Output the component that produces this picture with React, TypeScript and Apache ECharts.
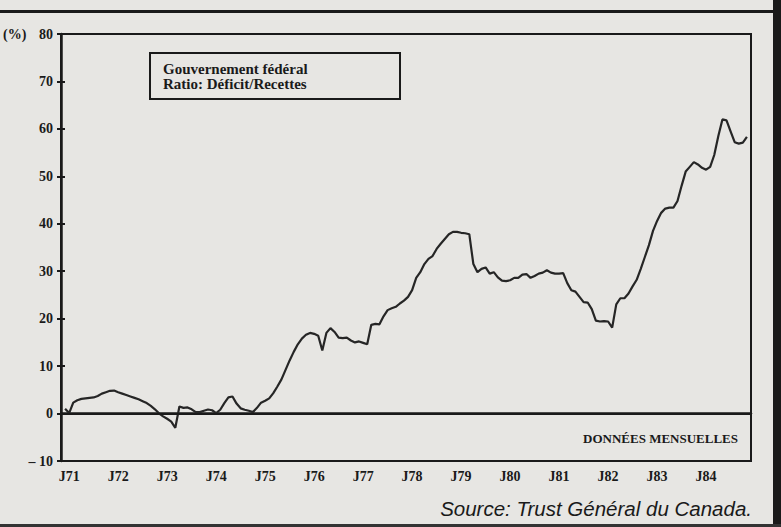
import React, { useEffect, useRef } from "react";
import * as echarts from "echarts";

// Monthly categories: Nov 1970 .. Dec 1984
const months: string[] = [];
for (let y = 1970; y <= 1984; y++) {
  for (let m = 1; m <= 12; m++) {
    if (y === 1970 && m < 11) continue;
    months.push(`${y}-${String(m).padStart(2, "0")}`);
  }
}

const yearLabels = ["J71", "J72", "J73", "J74", "J75", "J76", "J77", "J78", "J79", "J80", "J81", "J82", "J83", "J84"];

// Ratio déficit / recettes (%), one value per month
const ratio: (number | null)[] = [
  null, 1.0, 0.1, 2.3, 2.8, 3.1, 3.2, 3.3, 3.4, 3.7,
  4.2, 4.5, 4.8, 4.85, 4.5, 4.2, 3.9, 3.6, 3.3, 3.0,
  2.6, 2.2, 1.6, 0.9, 0.05, -0.6, -1.1, -1.7, -3.0, 1.5,
  1.2, 1.3, 0.9, 0.3, 0.3, 0.6, 0.85, 0.7, 0.1, 0.8,
  2.2, 3.4, 3.6, 2.1, 1.1, 0.8, 0.6, 0.3, 1.2, 2.3,
  2.7, 3.2, 4.3, 5.7, 7.2, 9.2, 11.2, 13.0, 14.6, 15.8,
  16.6, 17.0, 16.8, 16.4, 13.3, 17.0, 18.0, 17.2, 16.0, 15.9,
  16.0, 15.4, 15.0, 15.2, 14.9, 14.6, 18.7, 18.9, 18.8, 20.5,
  21.8, 22.2, 22.5, 23.2, 23.8, 24.6, 26.0, 28.6, 29.8, 31.5,
  32.6, 33.2, 34.7, 35.8, 36.8, 37.8, 38.3, 38.3, 38.1, 38.0,
  37.8, 31.5, 29.8, 30.5, 30.8, 29.5, 29.8, 28.7, 28.0, 27.9,
  28.1, 28.6, 28.6, 29.3, 29.4, 28.6, 29.0, 29.5, 29.7, 30.2,
  29.7, 29.5, 29.5, 29.6, 27.5, 26.0, 25.7, 24.6, 23.5, 23.4,
  22.0, 19.6, 19.4, 19.5, 19.4, 18.1, 23.0, 24.3, 24.3, 25.3,
  26.8, 28.2, 30.5, 33.0, 35.5, 38.5, 40.6, 42.3, 43.2, 43.4,
  43.4, 44.8, 48.0, 51.0, 52.0, 53.0, 52.5, 51.8, 51.4, 52.0,
  54.5, 58.5, 62.0, 61.8, 59.5, 57.2, 56.9, 57.1, 58.3, null,
];

const legendLines = ["Gouvernement fédéral", "Ratio: Déficit/Recettes"];
const noteText = "DONNÉES MENSUELLES";
const sourceText = "Source: Trust Général du Canada.";
const unitText = "(%)";

const INK = "#1a1a1a";
const SERIF = "'Liberation Serif', 'DejaVu Serif', serif";
const SANS = "'Liberation Sans', Arial, sans-serif";

export default function App() {
  const ref = useRef<HTMLDivElement>(null);

  useEffect(() => {
    if (!ref.current) return;
    const chart = echarts.init(ref.current, undefined, { renderer: "svg" });
    const yearByMonth: Record<string, string> = {};
    yearLabels.forEach((lab, k) => {
      yearByMonth[`${1971 + k}-01`] = lab;
    });

    chart.setOption({
      animation: false,
      backgroundColor: "#e7e6e3",
      grid: {
        left: 61,
        right: 30,
        top: 34,
        bottom: 66,
        show: true,
        borderColor: INK,
        borderWidth: 2,
        backgroundColor: "transparent",
      },
      xAxis: {
        type: "category",
        data: months,
        boundaryGap: false,
        axisLine: { show: true, lineStyle: { color: INK, width: 2.5 } },
        axisTick: { show: false },
        axisLabel: {
          interval: (i: number) => !!yearByMonth[months[i]],
          formatter: (v: string) => yearByMonth[v] || "",
          color: INK,
          fontFamily: SERIF,
          fontWeight: "bold",
          fontSize: 14,
          margin: 8,
        },
        splitLine: { show: false },
      },
      yAxis: [
        {
          type: "value",
          min: -10,
          max: 80,
          interval: 10,
          axisLine: { show: true, lineStyle: { color: INK, width: 2.5 } },
          axisTick: { show: true, length: 4, lineStyle: { color: INK, width: 2 } },
          axisLabel: {
            formatter: (v: number) => (v < 0 ? "– " + Math.abs(v) : String(v)),
            color: INK,
            fontFamily: SERIF,
            fontWeight: "bold",
            fontSize: 14,
            margin: 8,
          },
          splitLine: { show: false },
        },
        {
          type: "value",
          min: -10,
          max: 80,
          interval: 10,
          position: "left",
          axisLine: { show: false },
          axisTick: { show: true, inside: true, length: 4, lineStyle: { color: INK, width: 2 } },
          axisLabel: { show: false },
          splitLine: { show: false },
        },
      ],
      series: [
        {
          type: "line",
          data: ratio,
          symbol: "none",
          lineStyle: { color: "#262626", width: 2.2 },
          markLine: {
            silent: true,
            symbol: "none",
            label: { show: false },
            lineStyle: { color: INK, width: 2, type: "solid" },
            data: [{ yAxis: 0 }],
          },
        },
      ],
      graphic: [
        { type: "rect", shape: { x: 0, y: 10, width: 781, height: 3 }, style: { fill: INK } },
        { type: "rect", shape: { x: 773, y: 0, width: 8, height: 527 }, style: { fill: INK } },
        { type: "rect", shape: { x: 0, y: 524, width: 781, height: 3 }, style: { fill: "#333" } },
        {
          type: "rect",
          shape: { x: 150, y: 53, width: 250, height: 46 },
          style: { fill: "transparent", stroke: INK, lineWidth: 2 },
        },
        {
          type: "text",
          x: 163,
          y: 69,
          style: {
            text: legendLines[0],
            fill: INK,
            font: `bold 15px ${SERIF}`,
            textVerticalAlign: "middle",
          },
        },
        {
          type: "text",
          x: 163,
          y: 84,
          style: {
            text: legendLines[1],
            fill: INK,
            font: `bold 15px ${SERIF}`,
            textVerticalAlign: "middle",
          },
        },
        {
          type: "text",
          x: 738,
          y: 438,
          style: {
            text: noteText,
            fill: INK,
            font: `bold 13px ${SERIF}`,
            textAlign: "right",
            textVerticalAlign: "middle",
          },
        },
        {
          type: "text",
          x: 752,
          y: 508,
          style: {
            text: sourceText,
            fill: INK,
            font: `italic 20.5px ${SANS}`,
            textAlign: "right",
            textVerticalAlign: "middle",
          },
        },
        {
          type: "text",
          x: 3,
          y: 34,
          style: {
            text: unitText,
            fill: INK,
            font: `bold 14px ${SERIF}`,
            textVerticalAlign: "middle",
          },
        },
      ],
    });

    return () => chart.dispose();
  }, []);

  return (
    <div
      ref={ref}
      style={{ position: "fixed", left: 0, top: 0, width: 781, height: 527 }}
    />
  );
}
